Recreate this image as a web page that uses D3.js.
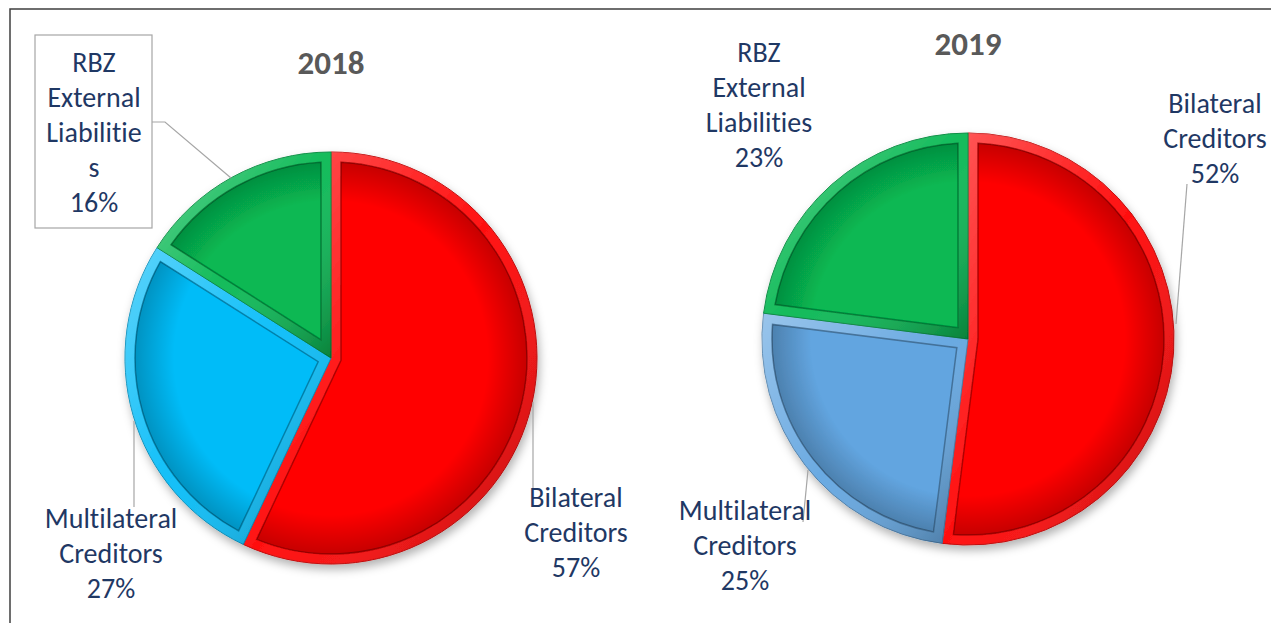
<!DOCTYPE html>
<html lang="en">
<head>
    <meta charset="UTF-8">
    <script src="https://cdn.jsdelivr.net/npm/d3@7"></script>
    <title>External debt by creditor</title>
    <style>
        body { margin: 0; background: white; }
        svg { display: block; }
        .lbl { font-family: Calibri, Carlito, "Open Sans", sans-serif; font-size: 28px; fill: #1F3864; font-variant-ligatures: none; }
        .ttl { font-family: Calibri, Carlito, "Open Sans", sans-serif; font-size: 33px; font-weight: bold; fill: #595959; }
    </style>
</head>
<body>
<div id="chart"></div>
<script>
    // data
    const years = ["2018", "2019"];
    const categories = ["Bilateral Creditors", "Multilateral Creditors", "RBZ External Liabilities"];
    const shares2018 = [57, 27, 16];
    const shares2019 = [52, 25, 23];

    const width = 1271, height = 623;
    const radius = 206;
    const bevel = 10;

    // layout per pie (positions only)
    const pies = [
        {
            year: years[0], values: shares2018, cx: 331, cy: 358, titleY: 62,
            colors: ["#FF0404", "#05BCF8", "#07B852"],
            labels: [
                { lines: ["Bilateral", "Creditors"], x: 576, y: 497, leader: [[533, 402], [533, 488]] },
                { lines: ["Multilateral", "Creditors"], x: 111, y: 518, leader: [[134, 421], [134, 507]] },
                { lines: ["RBZ", "External", "Liabilitie", "s"], x: 94, y: 62, leader: [[152, 122], [165, 122], [231, 178]],
                  box: [35, 35, 117, 193] }
            ]
        },
        {
            year: years[1], values: shares2019, cx: 968, cy: 339, titleY: 43,
            colors: ["#FF0404", "#62A5E0", "#07B852"],
            labels: [
                { lines: ["Bilateral", "Creditors"], x: 1215, y: 103, leader: [[1187, 184], [1176, 324]] },
                { lines: ["Multilateral", "Creditors"], x: 745, y: 510, leader: [[808, 470], [803, 522]] },
                { lines: ["RBZ", "External", "Liabilities"], x: 759, y: 52 }
            ]
        }
    ];

    const svg = d3.select("#chart").append("svg")
        .attr("width", width)
        .attr("height", height);

    const defs = svg.append("defs");

    const shadow = defs.append("filter").attr("id", "shadow")
        .attr("x", "-20%").attr("y", "-20%").attr("width", "140%").attr("height", "140%");
    shadow.append("feDropShadow")
        .attr("dx", 2).attr("dy", 5).attr("stdDeviation", 5)
        .attr("flood-color", "#000").attr("flood-opacity", 0.3);

    // light top-left, dark bottom-right for the bevel band
    const band = defs.append("linearGradient").attr("id", "band")
        .attr("x1", "0").attr("y1", "0").attr("x2", "1").attr("y2", "1");
    band.append("stop").attr("offset", "0%").attr("stop-color", "#fff").attr("stop-opacity", 0.35);
    band.append("stop").attr("offset", "50%").attr("stop-color", "#fff").attr("stop-opacity", 0.05);
    band.append("stop").attr("offset", "100%").attr("stop-color", "#000").attr("stop-opacity", 0.3);

    // frame (top and left edges only, the rest is cropped)
    svg.append("path")
        .attr("d", `M10,${height} L10,9 L${width},9`)
        .attr("fill", "none")
        .attr("stroke", "#3f3f3f")
        .attr("stroke-width", 1.5);

    const pie = d3.pie().sort(null).value(d => d);
    const arc = d3.arc().innerRadius(0).outerRadius(radius);

    // slice shrunk by a constant distance from its three edges
    function insetPath(a0, a1, r, d) {
        const theta = a1 - a0;
        const mid = (a0 + a1) / 2;
        const apex = d / Math.sin(theta / 2);
        const r2 = r - d;
        const delta = Math.asin(d / r2);
        const s = a0 + delta, e = a1 - delta;
        const p = d3.path();
        p.moveTo(apex * Math.sin(mid), -apex * Math.cos(mid));
        p.lineTo(r2 * Math.sin(s), -r2 * Math.cos(s));
        p.arc(0, 0, r2, s - Math.PI / 2, e - Math.PI / 2, false);
        p.closePath();
        return p.toString();
    }

    pies.forEach((cfg, pi) => {
        const g = svg.append("g").attr("transform", `translate(${cfg.cx},${cfg.cy})`);
        const arcs = pie(cfg.values);

        const rim = defs.append("radialGradient").attr("id", "rim" + pi)
            .attr("gradientUnits", "userSpaceOnUse")
            .attr("cx", 0).attr("cy", 0).attr("r", radius - bevel);
        rim.append("stop").attr("offset", "80%").attr("stop-color", "#000").attr("stop-opacity", 0);
        rim.append("stop").attr("offset", "100%").attr("stop-color", "#000").attr("stop-opacity", 0.22);

        const slices = g.append("g").attr("filter", "url(#shadow)")
            .selectAll("g")
            .data(arcs)
            .join("g");

        slices.append("path")
            .attr("d", arc)
            .attr("fill", (d, i) => cfg.colors[i])
            .attr("stroke", (d, i) => d3.color(cfg.colors[i]).darker(0.8))
            .attr("stroke-width", 1);

        slices.append("path")
            .attr("d", arc)
            .attr("fill", "url(#band)");

        slices.append("path")
            .attr("d", d => insetPath(d.startAngle, d.endAngle, radius, bevel))
            .attr("fill", (d, i) => cfg.colors[i])
            .attr("stroke", (d, i) => d3.color(cfg.colors[i]).darker(1.4))
            .attr("stroke-opacity", 0.8)
            .attr("stroke-width", 1.5);

        slices.append("path")
            .attr("d", d => insetPath(d.startAngle, d.endAngle, radius, bevel))
            .attr("fill", `url(#rim${pi})`);

        svg.append("text")
            .attr("class", "ttl")
            .attr("x", cfg.cx)
            .attr("y", cfg.titleY)
            .attr("dy", "0.35em")
            .attr("text-anchor", "middle")
            .text(cfg.year);

        cfg.labels.forEach((lb, i) => {
            if (lb.box) {
                svg.append("rect")
                    .attr("x", lb.box[0]).attr("y", lb.box[1])
                    .attr("width", lb.box[2]).attr("height", lb.box[3])
                    .attr("fill", "white")
                    .attr("stroke", "#a6a6a6")
                    .attr("stroke-width", 1.2);
            }
            if (lb.leader) {
                svg.append("path")
                    .attr("d", d3.line()(lb.leader))
                    .attr("fill", "none")
                    .attr("stroke", "#a6a6a6")
                    .attr("stroke-width", 1.2);
            }
            const lines = lb.lines.concat([cfg.values[i] + "%"]);
            svg.append("text")
                .attr("class", "lbl")
                .attr("text-anchor", "middle")
                .selectAll("tspan")
                .data(lines)
                .join("tspan")
                .attr("x", lb.x)
                .attr("y", (d, k) => lb.y + k * 35)
                .attr("dy", "0.35em")
                .text(d => d);
        });
    });
</script>
</body>
</html>
